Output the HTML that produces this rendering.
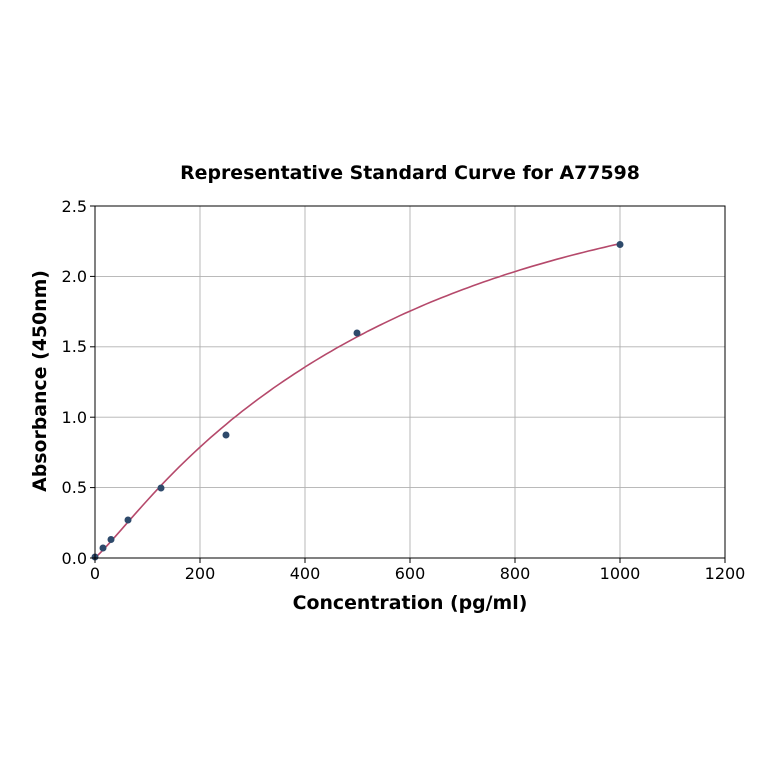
<!DOCTYPE html>
<html><head><meta charset="utf-8"><style>
body{margin:0;background:#fff;}
text{font-family:"DejaVu Sans","Liberation Sans",sans-serif;fill:#000;}
</style></head><body>
<svg id="s" width="764" height="764" viewBox="0 0 764 764" xmlns="http://www.w3.org/2000/svg">
<rect width="764" height="764" fill="#fff"/>
<text x="410" y="179" font-size="18.9" font-weight="bold" text-anchor="middle">Representative Standard Curve for A77598</text>
<g stroke="#b0b0b0" stroke-width="0.9">
<line x1="200" y1="206" x2="200" y2="558"/><line x1="305" y1="206" x2="305" y2="558"/>
<line x1="410" y1="206" x2="410" y2="558"/><line x1="515" y1="206" x2="515" y2="558"/>
<line x1="620" y1="206" x2="620" y2="558"/>
<line x1="95" y1="487.6" x2="725" y2="487.6"/><line x1="95" y1="417.2" x2="725" y2="417.2"/>
<line x1="95" y1="346.8" x2="725" y2="346.8"/><line x1="95" y1="276.4" x2="725" y2="276.4"/>
</g>
<path id="c" fill="none" stroke="#b5496b" stroke-width="1.6"/>
<g fill="#2e4a6b">
<circle cx="95" cy="557" r="3.5"/><circle cx="103" cy="548" r="3.5"/><circle cx="111" cy="539.5" r="3.5"/>
<circle cx="128" cy="520" r="3.5"/><circle cx="161" cy="488" r="3.5"/><circle cx="226" cy="435" r="3.5"/>
<circle cx="357" cy="333" r="3.5"/><circle cx="620" cy="244.5" r="3.5"/>
</g>
<rect x="95" y="206" width="630" height="352" fill="none" stroke="#000" stroke-width="1"/>
<g stroke="#000" stroke-width="1">
<line x1="95" y1="558" x2="95" y2="563"/><line x1="200" y1="558" x2="200" y2="563"/><line x1="305" y1="558" x2="305" y2="563"/>
<line x1="410" y1="558" x2="410" y2="563"/><line x1="515" y1="558" x2="515" y2="563"/><line x1="620" y1="558" x2="620" y2="563"/>
<line x1="725" y1="558" x2="725" y2="563"/>
<line x1="90" y1="558" x2="95" y2="558"/><line x1="90" y1="487.6" x2="95" y2="487.6"/><line x1="90" y1="417.2" x2="95" y2="417.2"/>
<line x1="90" y1="346.8" x2="95" y2="346.8"/><line x1="90" y1="276.4" x2="95" y2="276.4"/><line x1="90" y1="206" x2="95" y2="206"/>
</g>
<g font-size="16" text-anchor="middle">
<text x="95" y="579">0</text><text x="200" y="579">200</text><text x="305" y="579">400</text><text x="410" y="579">600</text>
<text x="515" y="579">800</text><text x="620" y="579">1000</text><text x="725" y="579">1200</text>
</g>
<g font-size="16" text-anchor="end">
<text x="87" y="564">0.0</text><text x="87" y="493">0.5</text><text x="87" y="423">1.0</text>
<text x="87" y="352">1.5</text><text x="87" y="282">2.0</text><text x="87" y="212">2.5</text>
</g>
<text x="410" y="609" font-size="18.9" font-weight="bold" text-anchor="middle">Concentration (pg/ml)</text>
<text transform="translate(46,381) rotate(-90)" font-size="18.9" font-weight="bold" text-anchor="middle">Absorbance (450nm)</text>
</svg>
<script>
var d="";for(var x=0;x<=1000;x+=10){var y=2.71*(1-Math.exp(-x/576));y=y*(1-0.25*Math.exp(-x/60));d+=(x?"L":"M")+(95+x*0.525).toFixed(1)+","+(558-y*140.8).toFixed(1);}
document.getElementById("c").setAttribute("d",d);
</script>
</body></html>
